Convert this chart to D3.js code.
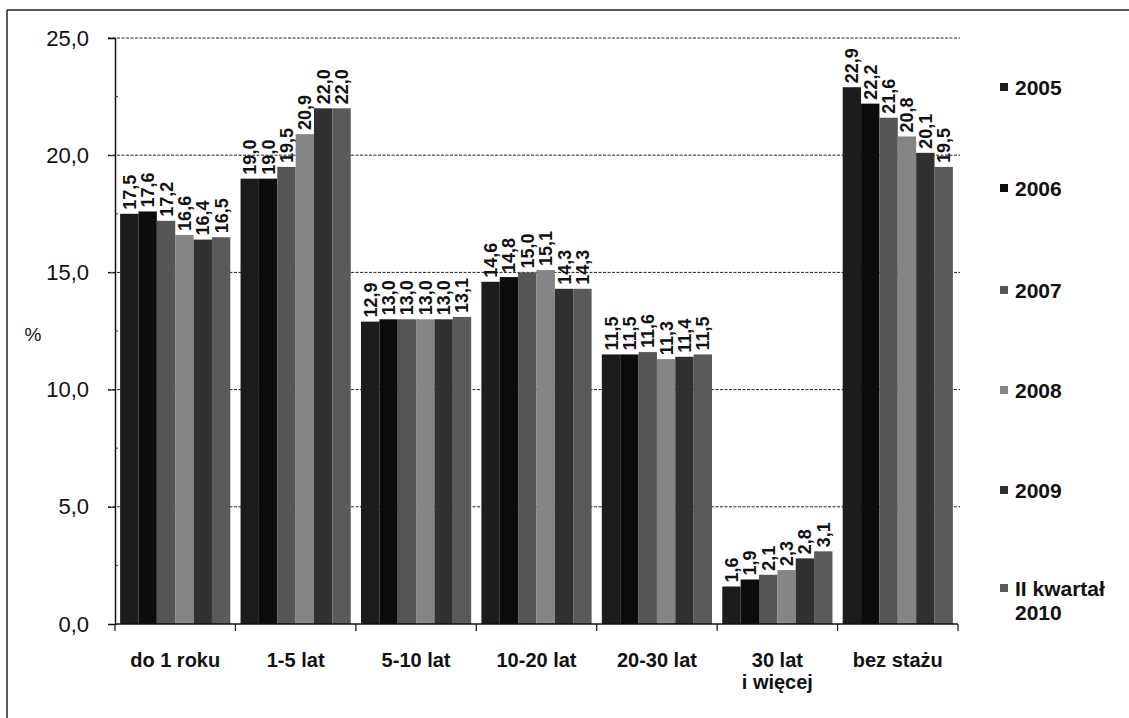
<!DOCTYPE html>
<html>
<head>
<meta charset="utf-8">
<script src="https://cdn.jsdelivr.net/npm/d3@7/dist/d3.min.js"></script>
<style>
  html, body { margin: 0; padding: 0; background: #fff; }
  svg { display: block; font-family: "Liberation Sans", Arial, sans-serif; }
</style>
</head>
<body>
<svg id="chart" width="1129" height="718"></svg>
<script>
const categories = ["do 1 roku", "1-5 lat", "5-10 lat", "10-20 lat", "20-30 lat", "30 lat\ni więcej", "bez stażu"];
const seriesNames = ["2005", "2006", "2007", "2008", "2009", "II kwartał\n2010"];
const s2005 = [17.5, 19.0, 12.9, 14.6, 11.5, 1.6, 22.9];
const s2006 = [17.6, 19.0, 13.0, 14.8, 11.5, 1.9, 22.2];
const s2007 = [17.2, 19.5, 13.0, 15.0, 11.6, 2.1, 21.6];
const s2008 = [16.6, 20.9, 13.0, 15.1, 11.3, 2.3, 20.8];
const s2009 = [16.4, 22.0, 13.0, 14.3, 11.4, 2.8, 20.1];
const s2010 = [16.5, 22.0, 13.1, 14.3, 11.5, 3.1, 19.5];
const yTicks = [0, 5, 10, 15, 20, 25];
const seriesValues = [s2005, s2006, s2007, s2008, s2009, s2010];
const colors = ["#1c1c1c", "#0c0c0c", "#555555", "#858585", "#303030", "#5a5a5a"];

const svg = d3.select("#chart");
const W = 1129, H = 718;
const pLeft = 115, pRight = 958, pTop = 38, pBottom = 624;

// frame lines (top and left)
svg.append("line").attr("x1", 7).attr("x2", W).attr("y1", 10).attr("y2", 10)
  .attr("stroke", "#222").attr("stroke-width", 1.5);
svg.append("line").attr("x1", 7).attr("x2", 7).attr("y1", 10).attr("y2", H)
  .attr("stroke", "#222").attr("stroke-width", 1.5);

const y = d3.scaleLinear().domain([0, 25]).range([pBottom, pTop]);
const x0 = d3.scaleBand().domain(categories).range([pLeft, pRight]).paddingInner(0.085).paddingOuter(0.0425);
const x1 = d3.scaleBand().domain(d3.range(seriesNames.length)).range([0, x0.bandwidth()]);

// gridlines
svg.append("g").selectAll("line").data(yTicks.filter(d => d > 0)).join("line")
  .attr("x1", pLeft - 7).attr("x2", pRight + 2)
  .attr("y1", d => y(d)).attr("y2", d => y(d))
  .attr("stroke", "#222").attr("stroke-width", 1).attr("stroke-dasharray", "3,1.5");

// bars
const groups = svg.append("g").selectAll("g").data(categories).join("g")
  .attr("transform", c => `translate(${x0(c)},0)`);
groups.each(function(c, ci) {
  const g = d3.select(this);
  seriesValues.forEach((vals, si) => {
    const v = vals[ci];
    g.append("rect")
      .attr("x", x1(si)).attr("width", x1.bandwidth())
      .attr("y", y(v)).attr("height", y(0) - y(v))
      .attr("fill", colors[si]);
    const tx = x1(si) + x1.bandwidth() / 2 + 6.5;
    const ty = y(v) - 4;
    g.append("text")
      .attr("transform", `translate(${tx},${ty}) rotate(-90)`)
      .attr("text-anchor", "start")
      .attr("font-size", 18).attr("font-weight", "bold").attr("fill", "#111")
      .text(v.toFixed(1).replace(".", ","));
  });
});

// y axis
const yAxis = d3.axisLeft(y).tickValues(yTicks).tickSize(7).tickPadding(19)
  .tickFormat(d => d.toFixed(1).replace(".", ","));
const yg = svg.append("g").attr("transform", `translate(${pLeft},0)`).call(yAxis);
yg.select(".domain").attr("stroke", "#111").attr("stroke-width", 1.5);
yg.selectAll(".tick line").attr("stroke", "#111");
yg.selectAll(".tick text").attr("font-size", 22).attr("fill", "#111")
  .attr("font-family", "'Liberation Sans', Arial, sans-serif");
// minor ticks
svg.append("g").selectAll("line").data(d3.range(2.5, 25, 5)).join("line")
  .attr("x1", pLeft).attr("x2", pLeft + 3)
  .attr("y1", d => y(d)).attr("y2", d => y(d)).attr("stroke", "#333");

svg.append("text").attr("x", 33).attr("y", 341).attr("text-anchor", "middle")
  .attr("font-size", 19).attr("fill", "#111").text("%");

// x axis
svg.append("line").attr("x1", pLeft).attr("x2", pRight).attr("y1", pBottom).attr("y2", pBottom)
  .attr("stroke", "#111").attr("stroke-width", 1.5);
const step = x0.step();
svg.append("g").selectAll("line").data(d3.range(categories.length + 1)).join("line")
  .attr("x1", i => pLeft + i * step).attr("x2", i => pLeft + i * step)
  .attr("y1", pBottom).attr("y2", pBottom + 7).attr("stroke", "#111").attr("stroke-width", 1.2);

const xl = svg.append("g").selectAll("text").data(categories).join("text")
  .attr("x", c => x0(c) + x0.bandwidth() / 2)
  .attr("y", 667)
  .attr("text-anchor", "middle").attr("font-size", 20).attr("font-weight", "bold").attr("fill", "#111");
xl.each(function(c) {
  const t = d3.select(this);
  c.split("\n").forEach((line, i) => {
    t.append("tspan").attr("x", t.attr("x")).attr("dy", i === 0 ? 0 : 22).text(line);
  });
});

// legend
const legendY = [87, 188, 290, 390, 490, 588];
const lg = svg.append("g").selectAll("g").data(seriesNames).join("g")
  .attr("transform", (d, i) => `translate(1000,${legendY[i]})`);
lg.append("rect").attr("x", 0).attr("y", -4).attr("width", 8).attr("height", 8)
  .attr("fill", (d, i) => colors[i]);
lg.each(function(d) {
  const t = d3.select(this).append("text").attr("x", 15).attr("y", 7.5)
    .attr("font-size", 21).attr("font-weight", "bold").attr("fill", "#111");
  d.split("\n").forEach((line, i) => {
    t.append("tspan").attr("x", 15).attr("dy", i === 0 ? 0 : 24).text(line);
  });
});
</script>
</body>
</html>
